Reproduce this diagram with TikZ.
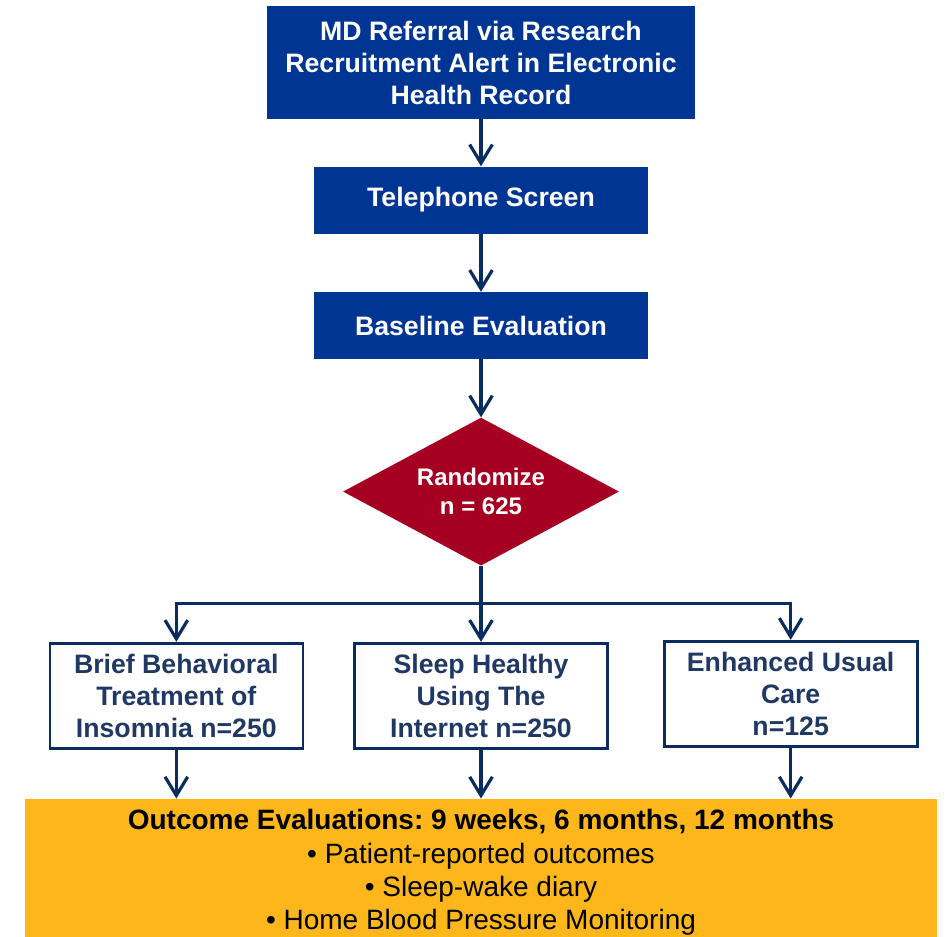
\documentclass[tikz,border=0pt]{standalone}
\usepackage{fontspec}
\setmainfont{Liberation Sans}
\usepackage{xcolor}
\usepackage{tikz}
\usetikzlibrary{shapes,arrows,arrows.meta,positioning}
\frenchspacing
\definecolor{navybox}{RGB}{0,53,148}
\definecolor{randred}{RGB}{165,0,33}
\definecolor{linenavy}{RGB}{10,45,95}
\definecolor{armtext}{RGB}{31,56,100}
\definecolor{outgold}{RGB}{253,183,27}
\tikzstyle{block} = [rectangle, fill=navybox, text=white, align=center,
    font=\fontsize{20}{24}\selectfont\bfseries, inner sep=0pt]
\tikzstyle{decision} = [diamond, fill=randred, text=white, align=center,
    font=\fontsize{18}{22}\selectfont\bfseries, inner sep=0pt, shape aspect=1.86,
    minimum width=207pt, minimum height=111pt]
\tikzstyle{arm} = [rectangle, draw=linenavy, line width=2pt, fill=white,
    text=armtext, align=center, font=\fontsize{20}{24}\selectfont\bfseries,
    minimum width=189.75pt, minimum height=78.75pt, inner sep=0pt]
\tikzstyle{outcome} = [rectangle, fill=outgold, text=black, align=center,
    font=\fontsize{21}{25}\selectfont, minimum width=684pt,
    inner xsep=0pt, inner ysep=8pt, anchor=north]
\tikzstyle{line} = [draw=linenavy, line width=2.4pt,
    -{Straight Barb[length=14pt,width=17pt,line width=2.4pt]}]

\begin{document}
\begin{tikzpicture}
    \useasboundingbox (0,0) rectangle (709.5pt,-702.75pt);
    % Place nodes
    \node [block, minimum width=321pt, minimum height=84.75pt] (referral) at (360.75pt,-46.875pt)
        {MD Referral via Research\\Recruitment Alert in Electronic\\Health Record};
    \node [block, minimum width=250.5pt, minimum height=50.25pt, below=35.25pt of referral] (phone) {Telephone Screen};
    \node [block, minimum width=250.5pt, minimum height=50.25pt, below=43.5pt of phone] (baseline) {Baseline Evaluation};
    \node [decision, below=43.5pt of baseline] (randomize) {Randomize\\n = 625};
    \node [arm, below=57pt of randomize] (shut) {Sleep Healthy\\Using The\\Internet n=250};
    \node [arm, left=36.75pt of shut] (bbti) {Brief Behavioral\\Treatment of\\Insomnia n=250};
    \node [arm, right=40.5pt of shut, yshift=1.5pt] (euc) {Enhanced Usual\\Care\\n=125};
    \coordinate [below=28.5pt of randomize.south] (split);
    \node [outcome, below=36.75pt of shut.south] (evals)
        {\textbf{Outcome Evaluations: 9 weeks, 6 months, 12 months}\\
         • Patient-reported outcomes\\
         • Sleep-wake diary\\
         • Home Blood Pressure Monitoring};
    % Draw edges
    \path [line] (referral) -- (phone);
    \path [line] (phone) -- (baseline);
    \path [line] (baseline) -- (randomize);
    \path [line] (randomize.south) -- (shut.north);
    \path [line] (split) -| (bbti.north);
    \path [line] (split) -| (euc.north);
    \path [line] (bbti.south) -- (bbti.south |- evals.north);
    \path [line] (shut.south) -- (shut.south |- evals.north);
    \path [line] (euc.south) -- (euc.south |- evals.north);
\end{tikzpicture}
\end{document}
